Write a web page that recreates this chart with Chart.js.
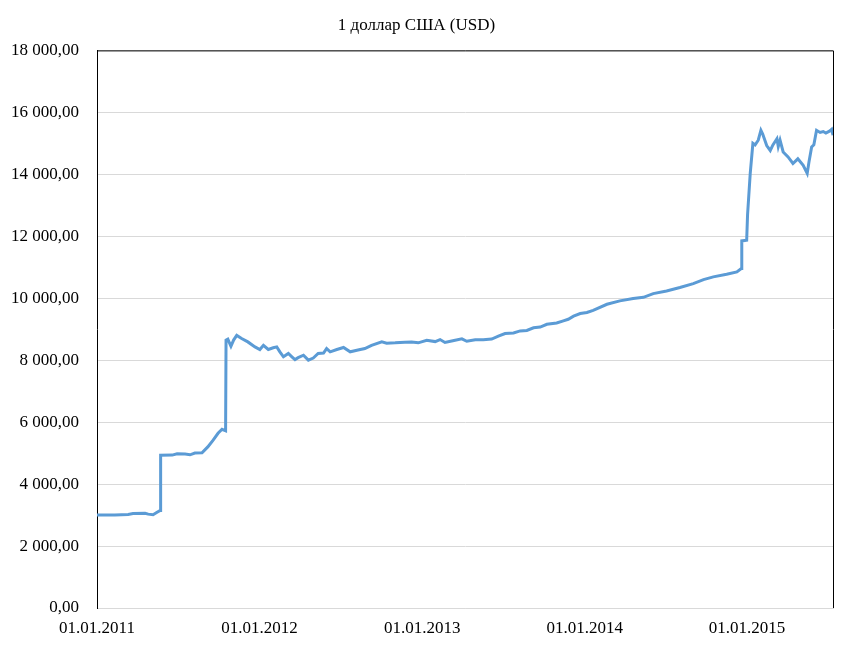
<!DOCTYPE html>
<html>
<head>
<meta charset="utf-8">
<script src="https://cdn.jsdelivr.net/npm/chart.js@4/dist/chart.umd.min.js"></script>
<style>
  html, body { margin: 0; padding: 0; background: #fff; }
  #wrap { width: 857px; height: 652px; }
</style>
</head>
<body>
<div id="wrap"><canvas id="rateChart"></canvas></div>
<script>
// official rate of the belarusian ruble
const dates = [
    '2011-01-01', '2011-02-10', '2011-03-12', '2011-03-23', '2011-04-19', '2011-04-26', '2011-05-07', '2011-05-16', '2011-05-23',
    '2011-05-24', '2011-06-19', '2011-06-30', '2011-07-18', '2011-07-29', '2011-08-09', '2011-08-25', '2011-09-07', '2011-09-19',
    '2011-09-30', '2011-10-09', '2011-10-17', '2011-10-18', '2011-10-22', '2011-10-29', '2011-11-04', '2011-11-11', '2011-11-22',
    '2011-12-06', '2011-12-22', '2012-01-02', '2012-01-10', '2012-01-21', '2012-02-01', '2012-02-09', '2012-02-16', '2012-02-24',
    '2012-03-06', '2012-03-14', '2012-03-21', '2012-03-28', '2012-04-09', '2012-04-20', '2012-05-01', '2012-05-12', '2012-05-24',
    '2012-05-31', '2012-06-08', '2012-06-23', '2012-07-08', '2012-07-23', '2012-08-07', '2012-08-25', '2012-09-09', '2012-10-02',
    '2012-10-13', '2012-11-01', '2012-11-23', '2012-12-08', '2012-12-23', '2013-01-11', '2013-01-30', '2013-02-10', '2013-02-21',
    '2013-03-08', '2013-03-31', '2013-04-11', '2013-04-30', '2013-05-18', '2013-06-06', '2013-06-21', '2013-07-06', '2013-07-25',
    '2013-08-09', '2013-08-24', '2013-09-08', '2013-09-23', '2013-10-08', '2013-10-30', '2013-11-14', '2013-11-25', '2013-12-07',
    '2013-12-22', '2014-01-06', '2014-01-20', '2014-02-20', '2014-03-21', '2014-04-20', '2014-05-13', '2014-06-04', '2014-07-04',
    '2014-08-03', '2014-09-02', '2014-09-25', '2014-10-17', '2014-11-16', '2014-12-09', '2014-12-19', '2014-12-20', '2014-12-31',
    '2015-01-02', '2015-01-08', '2015-01-14', '2015-01-19', '2015-01-26', '2015-02-01', '2015-02-05', '2015-02-14', '2015-02-22',
    '2015-02-28', '2015-03-09', '2015-03-12', '2015-03-16', '2015-03-23', '2015-04-03', '2015-04-14', '2015-04-25', '2015-05-07',
    '2015-05-16', '2015-05-20', '2015-05-26', '2015-05-31', '2015-06-06', '2015-06-14', '2015-06-21', '2015-06-27', '2015-07-06',
    '2015-07-10', '2015-07-13'
];
const rates = [
    3000, 3005, 3020, 3050, 3060, 3030, 3010, 3090, 3150,
    4930, 4935, 4980, 4970, 4945, 5000, 5010, 5200, 5420,
    5640, 5770, 5720, 8650, 8680, 8450, 8650, 8800, 8700,
    8590, 8430, 8345, 8480, 8345, 8400, 8430, 8270, 8110,
    8215, 8110, 8020, 8080, 8160, 8000, 8070, 8215, 8230,
    8375, 8270, 8345, 8410, 8270, 8320, 8375, 8480, 8590,
    8550, 8560, 8580, 8590, 8560, 8645, 8600, 8665, 8570,
    8620, 8690, 8610, 8660, 8660, 8680, 8775, 8860, 8880,
    8945, 8960, 9045, 9070, 9160, 9200, 9270, 9320, 9420,
    9505, 9540, 9610, 9805, 9915, 9990, 10030, 10150, 10235,
    10345, 10470, 10600, 10690, 10775, 10850, 10960, 11850, 11870,
    12700, 14030, 15000, 14950, 15100, 15420, 15300, 14930, 14770,
    14950, 15150, 14900, 15100, 14720, 14560, 14350, 14500, 14290,
    14030, 14400, 14880, 14950, 15420, 15350, 15380, 15330, 15400,
    15450, 15260
];

const tickDates = ['2011-01-01', '2012-01-01', '2013-01-01', '2014-01-01', '2015-01-01'];
const tickLabels = ['01.01.2011', '01.01.2012', '01.01.2013', '01.01.2014', '01.01.2015'];

function dayIndex(s) {
    const p = s.split('-').map(Number);
    return (Date.UTC(p[0], p[1] - 1, p[2]) - Date.UTC(2011, 0, 1)) / 86400000;
}

function formatRub(v) {
    const whole = String(Math.round(v)).replace(/\B(?=(\d{3})+(?!\d))/g, ' ');
    return whole + ',00';
}

const points = dates.map((d, i) => ({ x: dayIndex(d), y: rates[i] }));
const tickDays = tickDates.map(dayIndex);

// black frame on top and right of the plot area
const frame = {
    id: 'frame',
    afterDraw(chart) {
        const a = chart.chartArea;
        const ctx = chart.ctx;
        ctx.save();
        ctx.strokeStyle = '#000';
        ctx.lineWidth = 1;
        ctx.beginPath();
        ctx.moveTo(a.left, a.top + 0.5);
        ctx.lineTo(a.right + 0.5, a.top + 0.5);
        ctx.lineTo(a.right + 0.5, a.bottom);
        ctx.stroke();
        ctx.restore();
    }
};

const serif = 'Liberation Serif, Times New Roman, serif';

new Chart(document.getElementById('rateChart').getContext('2d'), {
    type: 'line',
    data: {
        datasets: [{
            label: '1 доллар США (USD)',
            data: points,
            borderColor: '#5B9BD5',
            borderWidth: 3,
            pointRadius: 0,
            tension: 0,
            fill: false
        }]
    },
    options: {
        responsive: true,
        maintainAspectRatio: false,
        animation: false,
        layout: { padding: { left: 0, right: 24, top: 0, bottom: 0 } },
        plugins: {
            legend: { display: false },
            tooltip: { enabled: false },
            title: {
                display: true,
                text: '1 доллар США (USD)',
                color: '#000',
                font: { family: serif, size: 17, weight: 'normal' },
                padding: { top: 15, bottom: 15 }
            }
        },
        scales: {
            x: {
                type: 'linear',
                min: 0,
                max: points[points.length - 1].x,
                afterBuildTicks: scale => { scale.ticks = tickDays.map(v => ({ value: v })); },
                afterFit: scale => { scale.height = 44; },
                grid: { display: false, drawTicks: false },
                border: { display: true, color: '#d9d9d9', width: 1 },
                ticks: {
                    color: '#000',
                    padding: 10,
                    maxRotation: 0,
                    font: { family: serif, size: 17 },
                    callback: v => tickLabels[tickDays.indexOf(v)]
                }
            },
            y: {
                min: 0,
                max: 18000,
                afterFit: scale => { scale.width = 97; },
                grid: { color: '#d9d9d9', lineWidth: 1, drawTicks: false },
                border: { display: true, color: '#000', width: 1 },
                ticks: {
                    stepSize: 2000,
                    color: '#000',
                    padding: 18,
                    font: { family: serif, size: 17 },
                    callback: v => formatRub(v)
                }
            }
        }
    },
    plugins: [frame]
});
</script>
</body>
</html>
